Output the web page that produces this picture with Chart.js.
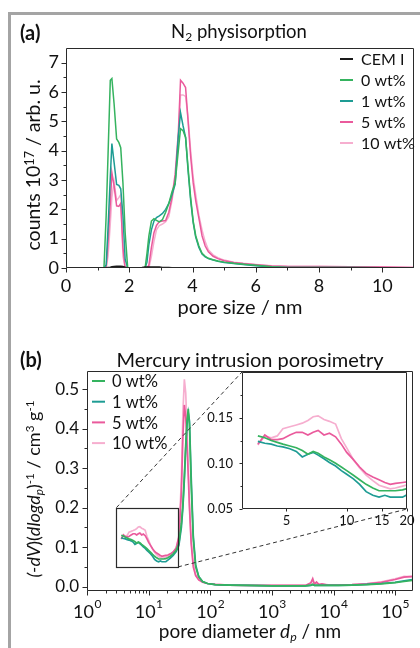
<!DOCTYPE html>
<html>
<head>
<meta charset="utf-8">
<script src="https://cdn.jsdelivr.net/npm/chart.js@4.4.1/dist/chart.umd.min.js"></script>
<style>
  html, body { margin: 0; padding: 0; }
  body { width: 420px; height: 648px; position: relative; overflow: hidden; background: #fff; font-family: Lato, sans-serif; color: #111; }
  .frame { position: absolute; left: 8px; top: 12px; width: 420px; height: 648px; border-left: 3px solid #a4a4a4; border-top: 3px solid #a4a4a4; }
  canvas { position: absolute; left: 0; }
  .t { position: absolute; white-space: nowrap; line-height: 1; }
  .c { transform: translateX(-50%); }
  .r { transform: translate(-50%, -50%) rotate(-90deg); }
  sub { font-size: 0.65em; vertical-align: -0.25em; line-height: 0; }
  sup { font-size: 0.65em; vertical-align: 0.5em; line-height: 0; }
</style>
</head>
<body>
<div class="frame"></div>
<canvas id="chartA" width="420" height="310" style="top:0"></canvas>
<canvas id="chartB" width="420" height="338" style="top:310px"></canvas>
<canvas id="chartInset" width="420" height="338" style="top:310px"></canvas>

<div class="t" style="left:20px;top:22px;font-size:20px;font-weight:bold">(a)</div>
<div class="t c" style="left:239px;top:22px;font-size:18.5px">N<sub>2</sub> physisorption</div>
<div class="t r" style="left:33px;top:165px;font-size:19.5px">counts 10<sup>17</sup> / arb. u.</div>
<div class="t c" style="left:240px;top:296px;font-size:20px">pore size / nm</div>

<div class="t" style="left:20px;top:349px;font-size:20px;font-weight:bold">(b)</div>
<div class="t c" style="left:250px;top:349px;font-size:20px">Mercury intrusion porosimetry</div>
<div class="t r" style="left:33px;top:489px;font-size:18px"><i>(-dV</i>)(<i>dlogd<sub>p</sub></i>)<sup>-1</sup> / cm<sup>3</sup> g<sup>-1</sup></div>
<div class="t c" style="left:250px;top:621px;font-size:19px">pore diameter <i>d<sub>p</sub></i> / nm</div>

<script>
// (a) N2 physisorption, pore size in nm
const poreSize = [1.2, 1.27, 1.33, 1.4, 1.45, 1.52, 1.6, 1.67, 1.73, 1.8, 1.87, 1.95,
  2.05, 2.2, 2.4, 2.5, 2.56, 2.62, 2.7, 2.78, 2.86, 2.95, 3.05, 3.15, 3.25, 3.35, 3.45, 3.55,
  3.62, 3.7, 3.78, 3.86, 3.94, 4.02, 4.1, 4.2, 4.3, 4.4, 4.5, 4.65, 4.8, 5.0, 5.3, 5.6, 6.0,
  6.5, 7.0, 8.0, 9.0, 10.0, 11.0]
const n2CemI = [0, 0.01, 0.02, 0.03, 0.04, 0.05, 0.06, 0.06, 0.06, 0.05, 0.03, 0.01,
  0, 0.01, 0.02, 0.03, 0.03, 0.03, 0.03, 0.03, 0.03, 0.03, 0.02, 0.02, 0.02, 0.01, 0.01, 0.01,
  0.01, 0.01, 0, 0, 0, 0, 0, 0, 0, 0, 0, 0, 0, 0, 0, 0, 0, 0, 0, 0, 0, 0, 0]
const n2Wt0 = [0, 1.8, 3.9, 6.4, 6.46, 5.6, 4.4, 4.28, 4.1, 2.9, 1.2, 0,
  0, 0, 0, 0, 0.5, 1.1, 1.6, 1.68, 1.62, 1.57, 1.65, 1.9, 2.2, 2.6, 2.9, 4.0,
  4.75, 4.68, 4.45, 3.4, 2.4, 1.6, 1.1, 0.75, 0.5, 0.4, 0.33, 0.28, 0.24, 0.2, 0.16, 0.13, 0.09,
  0.04, 0.02, 0.02, 0.015, 0.01, 0.01]
const n2Wt1 = [0, 0.1, 1.4, 3.1, 4.24, 3.6, 2.85, 2.82, 2.7, 1.8, 0.3, 0,
  0, 0, 0, 0, 0.2, 0.8, 1.3, 1.6, 1.72, 1.78, 1.86, 2.0, 2.2, 2.5, 2.85, 4.5,
  5.3, 4.85, 4.45, 3.3, 2.3, 1.55, 1.05, 0.7, 0.48, 0.38, 0.32, 0.27, 0.23, 0.19, 0.15, 0.12, 0.08,
  0.035, 0.02, 0.02, 0.015, 0.01, 0.01]
const n2Wt5 = [0, 0, 0.9, 2.2, 3.25, 2.8, 2.12, 2.1, 2.2, 0.7, 0, 0,
  0, 0, 0, 0, 0, 0.1, 0.7, 1.2, 1.45, 1.58, 1.6, 1.62, 1.9, 2.4, 3.2, 4.6,
  6.4, 6.3, 6.15, 5.0, 3.8, 2.9, 2.3, 1.7, 1.1, 0.75, 0.55, 0.4, 0.32, 0.25, 0.19, 0.15, 0.11,
  0.07, 0.05, 0.05, 0.04, 0.03, 0.02]
const n2Wt10 = [0, 0, 0.4, 1.5, 2.4, 2.95, 2.3, 2.4, 2.5, 0.4, 0, 0,
  0, 0, 0, 0, 0, 0, 0.4, 0.9, 1.3, 1.45, 1.5, 1.58, 1.75, 2.3, 3.0, 4.3,
  5.9, 5.9, 5.85, 5.1, 4.0, 3.1, 2.5, 1.8, 1.3, 0.9, 0.62, 0.45, 0.35, 0.27, 0.2, 0.16, 0.12,
  0.08, 0.06, 0.05, 0.04, 0.03, 0.02]

// (b) mercury intrusion, pore diameter in nm
const poreDiameter = [3.6, 3.9, 4.2, 4.5, 4.8, 5.2, 5.6, 6.0, 6.4, 6.8, 7.2, 7.7, 8.2, 8.8, 9.4,
  10, 10.8, 11.6, 12.5, 13.5, 14.5, 15.5, 16.5, 17.5, 19,
  20.5, 22.5, 25, 28, 31, 34, 36, 38, 40, 42, 44, 46, 49, 53, 58,
  65, 75, 90, 120, 200, 400, 1000, 2000, 3500, 4300, 4600, 4900, 5300, 5800, 6500, 8000,
  12000, 20000, 35000, 60000, 100000, 140000, 190000]
const hgWt0 = [0.130, 0.128, 0.125, 0.123, 0.121, 0.119, 0.117, 0.114, 0.110, 0.113, 0.111, 0.107, 0.104, 0.100, 0.096,
  0.092, 0.087, 0.082, 0.077, 0.073, 0.070, 0.070, 0.070, 0.070, 0.071,
  0.073, 0.077, 0.083, 0.092, 0.11, 0.16, 0.21, 0.28, 0.36, 0.42, 0.45, 0.41, 0.26, 0.12, 0.05,
  0.025, 0.013, 0.008, 0.005, 0.004, 0.003, 0.002, 0.002, 0.002, 0.004, 0.006, 0.003, 0.004, 0.003, 0.003, 0.003,
  0.003, 0.004, 0.005, 0.007, 0.010, 0.013, 0.016]
const hgWt1 = [0.124, 0.122, 0.121, 0.119, 0.118, 0.116, 0.113, 0.107, 0.110, 0.112, 0.109, 0.105, 0.101, 0.097, 0.092,
  0.088, 0.083, 0.077, 0.069, 0.065, 0.063, 0.065, 0.063, 0.063, 0.063,
  0.067, 0.072, 0.079, 0.089, 0.105, 0.15, 0.2, 0.27, 0.35, 0.41, 0.44, 0.42, 0.28, 0.13, 0.055,
  0.026, 0.013, 0.008, 0.005, 0.004, 0.003, 0.002, 0.002, 0.002, 0.003, 0.005, 0.003, 0.003, 0.003, 0.003, 0.003,
  0.003, 0.004, 0.006, 0.008, 0.011, 0.015, 0.018]
const hgWt5 = [0.121, 0.131, 0.126, 0.126, 0.127, 0.131, 0.134, 0.134, 0.131, 0.134, 0.136, 0.131, 0.133, 0.129, 0.121,
  0.112, 0.104, 0.096, 0.089, 0.085, 0.082, 0.079, 0.077, 0.078, 0.079,
  0.080, 0.083, 0.088, 0.098, 0.125, 0.24, 0.38, 0.46, 0.43, 0.36, 0.28, 0.2, 0.11, 0.05, 0.028,
  0.017, 0.011, 0.008, 0.006, 0.004, 0.003, 0.003, 0.003, 0.003, 0.01, 0.02, 0.006, 0.012, 0.005, 0.007, 0.004,
  0.004, 0.005, 0.007, 0.011, 0.018, 0.024, 0.026]
const hgWt10 = [0.120, 0.130, 0.128, 0.130, 0.138, 0.140, 0.142, 0.144, 0.147, 0.151, 0.152, 0.148, 0.146, 0.143, 0.127,
  0.117, 0.104, 0.095, 0.087, 0.081, 0.076, 0.074, 0.072, 0.073, 0.075,
  0.077, 0.081, 0.087, 0.097, 0.13, 0.27, 0.44, 0.525, 0.49, 0.40, 0.30, 0.21, 0.12, 0.06, 0.03,
  0.018, 0.012, 0.008, 0.006, 0.004, 0.003, 0.003, 0.003, 0.003, 0.008, 0.016, 0.007, 0.01, 0.006, 0.006, 0.005,
  0.004, 0.005, 0.008, 0.012, 0.02, 0.026, 0.025]

const seriesNames = ['CEM I', '0 wt%', '1 wt%', '5 wt%', '10 wt%']
const seriesColors = ['#1a1a1a', '#35b35f', '#1e9c94', '#ea5a9c', '#f6aecf']

const ticksAX = [0, 2, 4, 6, 8, 10]
const ticksAY = [0, 1, 2, 3, 4, 5, 6, 7]
const ticksBX = [1, 10, 100, 1000, 10000, 100000]
const ticksBY = [0, 0.1, 0.2, 0.3, 0.4, 0.5]
const ticksInsetX = [5, 10, 15, 20]
const ticksInsetY = [0.05, 0.10, 0.15]
const zoomRangeX = [3, 30]
const zoomRangeY = [0.05, 0.2]

Chart.defaults.font.family = 'Lato'
Chart.defaults.color = '#111'

const pairs = (xs, ys) => xs.map((x, i) => ({ x: x, y: ys[i] }))
const fixTicks = vals => axis => { axis.ticks = vals.map(v => ({ value: v })) }
const px = v => Math.round(v) + 0.5

const decor = {
  id: 'decor',
  beforeDatasetsDraw(chart, args, o) {
    if (!o.fill) return
    const a = chart.chartArea
    chart.ctx.save()
    chart.ctx.fillStyle = '#fff'
    chart.ctx.fillRect(a.left, a.top, a.right - a.left, a.bottom - a.top)
    chart.ctx.restore()
  },
  afterDraw(chart, args, o) {
    const { ctx, chartArea: a, scales: { x, y } } = chart
    const L = px(a.left), R = px(a.right) - 1, T = px(a.top), B = px(a.bottom) - 1
    ctx.save()
    ctx.strokeStyle = '#2a2a2a'
    ctx.lineWidth = 1
    ctx.beginPath()
    ctx.rect(L, T, R - L, B - T)
    const xt = (vals, len) => vals.forEach(v => { const p = px(x.getPixelForValue(v)); ctx.moveTo(p, B); ctx.lineTo(p, B + len) })
    const yt = (vals, len) => vals.forEach(v => { const p = px(y.getPixelForValue(v)); ctx.moveTo(L, p); ctx.lineTo(L - len, p) })
    xt(o.xMajor, o.major); xt(o.xMinor, o.minor)
    yt(o.yMajor, o.major); yt(o.yMinor, o.minor)
    ctx.stroke()
    ctx.restore()
  }
}

const legendBox = {
  id: 'legendBox',
  afterDraw(chart, args, o) {
    const ctx = chart.ctx
    ctx.save()
    ctx.font = o.size + 'px Lato'
    ctx.textBaseline = 'middle'
    ctx.lineWidth = 2
    chart.data.datasets.forEach((ds, i) => {
      const yy = o.y + i * o.dy
      ctx.strokeStyle = ds.borderColor
      ctx.beginPath(); ctx.moveTo(o.x, yy); ctx.lineTo(o.x + o.len, yy); ctx.stroke()
      ctx.fillStyle = '#111'
      ctx.fillText(ds.label, o.x + o.len + o.gap, yy + 1)
    })
    ctx.restore()
  }
}

// (a)
const n2Series = [n2CemI, n2Wt0, n2Wt1, n2Wt5, n2Wt10]
const chartA = new Chart(document.getElementById('chartA'), {
  type: 'line',
  data: {
    datasets: n2Series.map((s, i) => ({
      label: seriesNames[i], data: pairs(poreSize, s), borderColor: seriesColors[i], borderWidth: 1.5
    }))
  },
  options: {
    responsive: false, animation: false,
    layout: { padding: { left: 26, top: 48, right: 6, bottom: 12 } },
    elements: { point: { radius: 0 }, line: { tension: 0 } },
    plugins: {
      legend: { display: false }, tooltip: { enabled: false },
      decor: { xMajor: ticksAX, xMinor: [1, 3, 5, 7, 9], yMajor: ticksAY, yMinor: [0.5, 1.5, 2.5, 3.5, 4.5, 5.5, 6.5], major: 5, minor: 3 },
      legendBox: { x: 340, y: 59, dy: 21, len: 13, gap: 8, size: 16 }
    },
    scales: {
      x: {
        type: 'linear', min: 0, max: 11,
        afterBuildTicks: fixTicks(ticksAX), afterFit: s => { s.height = 30 },
        grid: { display: false, drawTicks: false }, border: { display: false },
        ticks: { padding: 7, font: { size: 18 } }
      },
      y: {
        min: 0, max: 7.5,
        afterBuildTicks: fixTicks(ticksAY), afterFit: s => { s.width = 40 },
        grid: { display: false, drawTicks: false }, border: { display: false },
        ticks: { padding: 7, font: { size: 18 } }
      }
    }
  },
  plugins: [decor, legendBox]
})

// (b)
const hgSeries = [hgWt0, hgWt1, hgWt5, hgWt10]
const hgDatasets = () => hgSeries.map((s, i) => ({
  label: seriesNames[i + 1], data: pairs(poreDiameter, s), borderColor: seriesColors[i + 1], borderWidth: 1.7
}))
const logMinor = []
for (let k = 0; k < 6; k++) for (let m = 2; m < 10; m++) logMinor.push(m * Math.pow(10, k))

const powerLabels = {
  id: 'powerLabels',
  afterDraw(chart) {
    const { ctx, chartArea: a, scales: { x } } = chart
    ctx.save()
    ctx.fillStyle = '#111'
    ctx.textBaseline = 'middle'
    x.ticks.forEach(t => {
      const e = String(Math.round(Math.log10(t.value)))
      ctx.font = '18px Lato'
      const w1 = ctx.measureText('10').width
      ctx.font = '12px Lato'
      const w2 = ctx.measureText(e).width
      const x0 = x.getPixelForValue(t.value) - (w1 + w2) / 2
      ctx.font = '18px Lato'
      ctx.fillText('10', x0, a.bottom + 21)
      ctx.font = '12px Lato'
      ctx.fillText(e, x0 + w1 + 0.5, a.bottom + 13)
    })
    ctx.restore()
  }
}

const zoomFrame = {
  id: 'zoomFrame',
  afterDraw(chart) {
    const { ctx, scales: { x, y } } = chart
    const l = px(x.getPixelForValue(zoomRangeX[0])), r = px(x.getPixelForValue(zoomRangeX[1]))
    const t = px(y.getPixelForValue(zoomRangeY[1])), b = px(y.getPixelForValue(zoomRangeY[0]))
    ctx.save()
    ctx.strokeStyle = '#2a2a2a'
    ctx.lineWidth = 1.2
    ctx.strokeRect(l, t, r - l, b - t)
    ctx.restore()
  }
}

const chartB = new Chart(document.getElementById('chartB'), {
  type: 'line',
  data: { datasets: hgDatasets() },
  options: {
    responsive: false, animation: false,
    layout: { padding: { left: 42, top: 61, right: 7, bottom: 22 } },
    elements: { point: { radius: 0 }, line: { tension: 0 } },
    plugins: {
      legend: { display: false }, tooltip: { enabled: false },
      decor: { xMajor: ticksBX, xMinor: logMinor.filter(v => v < 195000), yMajor: ticksBY, yMinor: [0.05, 0.15, 0.25, 0.35, 0.45], major: 5, minor: 3 },
      legendBox: { x: 92, y: 71, dy: 20.7, len: 13, gap: 7, size: 16.5 }
    },
    scales: {
      x: {
        type: 'logarithmic', min: 1, max: 195000,
        afterBuildTicks: fixTicks(ticksBX), afterFit: s => { s.height = 35 },
        grid: { display: false, drawTicks: false }, border: { display: false },
        ticks: { display: false }
      },
      y: {
        min: -0.011, max: 0.546,
        afterBuildTicks: fixTicks(ticksBY), afterFit: s => { s.width = 45 },
        grid: { display: false, drawTicks: false }, border: { display: false },
        ticks: { padding: 8, font: { size: 17 }, callback: v => v.toFixed(1) }
      }
    }
  },
  plugins: [decor, legendBox, powerLabels, zoomFrame]
})

// inset, drawn on a transparent canvas on top of (b)
const connectors = {
  id: 'connectors',
  afterDraw(chart) {
    const { ctx, chartArea: a } = chart
    const mx = chartB.scales.x, my = chartB.scales.y
    const l = mx.getPixelForValue(zoomRangeX[0]), r = mx.getPixelForValue(zoomRangeX[1])
    const t = my.getPixelForValue(zoomRangeY[1]), b = my.getPixelForValue(zoomRangeY[0])
    ctx.save()
    ctx.strokeStyle = '#333'
    ctx.lineWidth = 1
    ctx.setLineDash([4, 3])
    ctx.beginPath()
    ctx.moveTo(l, t); ctx.lineTo(a.left, a.top)
    ctx.moveTo(r, b); ctx.lineTo(a.right, a.bottom)
    ctx.stroke()
    ctx.restore()
  }
}

const chartInset = new Chart(document.getElementById('chartInset'), {
  type: 'line',
  data: { datasets: hgDatasets() },
  options: {
    responsive: false, animation: false,
    layout: { padding: { left: 202, top: 62, right: 13, bottom: 119 } },
    elements: { point: { radius: 0 }, line: { tension: 0 } },
    plugins: {
      legend: { display: false }, tooltip: { enabled: false },
      decor: { fill: true, xMajor: ticksInsetX, xMinor: [], yMajor: ticksInsetY, yMinor: [0.075, 0.125, 0.175], major: 3, minor: 2 }
    },
    scales: {
      x: {
        type: 'logarithmic', min: 3, max: 20,
        afterBuildTicks: fixTicks(ticksInsetX), afterFit: s => { s.height = 20 },
        grid: { display: false, drawTicks: false }, border: { display: false },
        ticks: { padding: 4, font: { size: 13 }, callback: v => String(v) }
      },
      y: {
        min: 0.05, max: 0.2,
        afterBuildTicks: fixTicks(ticksInsetY), afterFit: s => { s.width = 40 },
        grid: { display: false, drawTicks: false }, border: { display: false },
        ticks: { padding: 9, font: { size: 13 }, callback: v => v.toFixed(2) }
      }
    }
  },
  plugins: [decor, connectors]
})
</script>
</body>
</html>
